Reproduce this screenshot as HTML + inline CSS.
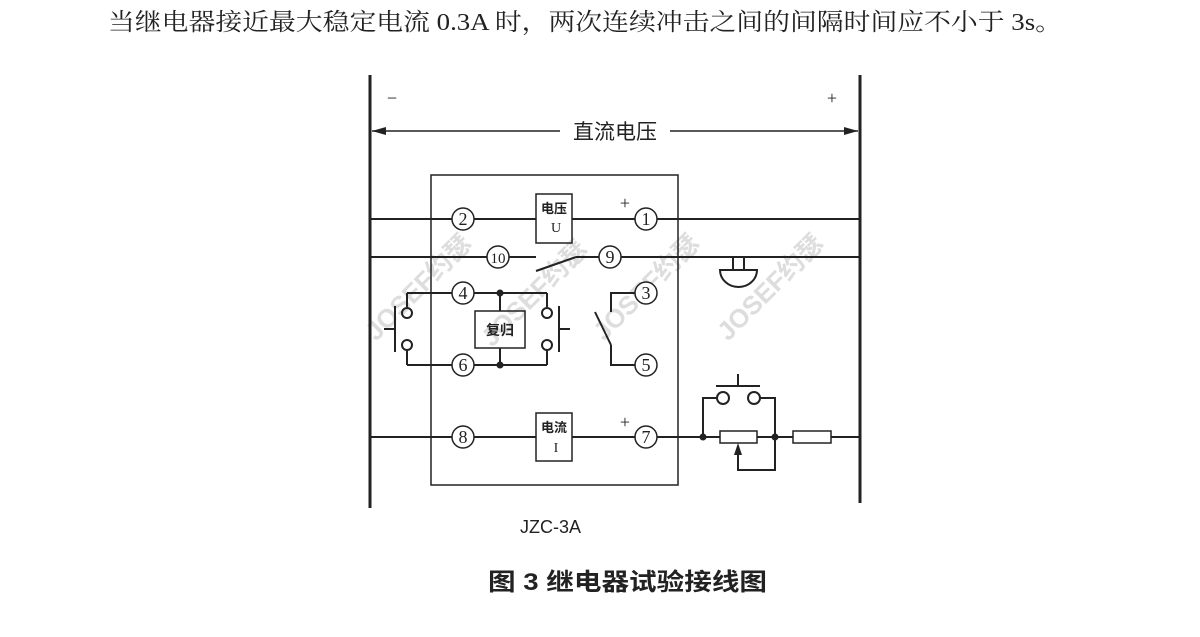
<!DOCTYPE html>
<html><head><meta charset="utf-8"><style>
html,body{margin:0;padding:0;background:#fff;width:1200px;height:637px;overflow:hidden}
svg{display:block}
</style></head><body>
<svg width="1200" height="637" viewBox="0 0 1200 637" xmlns="http://www.w3.org/2000/svg" font-family="'Liberation Serif','Noto Serif CJK SC',serif">
<text x="108" y="30" font-size="24" textLength="954" lengthAdjust="spacingAndGlyphs" fill="#222">当继电器接近最大稳定电流 0.3A 时，两次连续冲击之间的间隔时间应不小于 3s。</text>
<g font-size="26" font-weight="bold" fill="#ddd" font-family="'Liberation Sans','Noto Sans CJK SC',sans-serif">
<text transform="translate(376,342) rotate(-45)">JOSEF约瑟</text>
<text transform="translate(492,348) rotate(-45)">JOSEF约瑟</text>
<text transform="translate(604,342) rotate(-45)">JOSEF约瑟</text>
<text transform="translate(728,342) rotate(-45)">JOSEF约瑟</text>
</g>
<g stroke="#222" fill="none" stroke-width="2">
<line x1="370" y1="75" x2="370" y2="508" stroke-width="3"/>
<line x1="860" y1="75" x2="860" y2="503" stroke-width="3"/>
<line x1="372" y1="131" x2="560" y2="131" stroke-width="1.5"/>
<line x1="670" y1="131" x2="858" y2="131" stroke-width="1.5"/>
<rect x="431" y="175" width="247" height="310" stroke-width="1.5"/>
<line x1="370" y1="219" x2="453" y2="219"/><line x1="473" y1="219" x2="536" y2="219"/>
<line x1="572" y1="219" x2="636" y2="219"/><line x1="656" y1="219" x2="860" y2="219"/>
<rect x="536" y="194" width="36" height="49" stroke-width="1.5"/>
<line x1="370" y1="257" x2="488" y2="257"/><line x1="508" y1="257" x2="536" y2="257"/>
<line x1="536" y1="271" x2="576" y2="257"/><line x1="576" y1="257" x2="600" y2="257"/>
<line x1="620" y1="257" x2="860" y2="257"/>
<line x1="733" y1="257" x2="733" y2="270"/><line x1="744" y1="257" x2="744" y2="270"/>
<path d="M720 270 H757 A18.5 17 0 0 1 720 270 Z"/>
<line x1="407" y1="293" x2="453" y2="293"/><line x1="473" y1="293" x2="547" y2="293"/>
<line x1="407" y1="293" x2="407" y2="307"/><line x1="547" y1="293" x2="547" y2="307"/>
<line x1="407" y1="365" x2="453" y2="365"/><line x1="473" y1="365" x2="547" y2="365"/>
<line x1="407" y1="365" x2="407" y2="351"/><line x1="547" y1="365" x2="547" y2="351"/>
<circle cx="407" cy="313" r="5"/><circle cx="407" cy="345" r="5"/>
<circle cx="547" cy="313" r="5"/><circle cx="547" cy="345" r="5"/>
<line x1="395" y1="306" x2="395" y2="352"/><line x1="384" y1="329" x2="395" y2="329"/>
<line x1="559" y1="306" x2="559" y2="352"/><line x1="559" y1="329" x2="570" y2="329"/>
<line x1="500" y1="293" x2="500" y2="311"/><line x1="500" y1="348" x2="500" y2="365"/>
<rect x="475" y="311" width="50" height="37" stroke-width="1.5"/>
<polyline points="636,293 611,293 611,312"/>
<line x1="595" y1="312" x2="611" y2="345"/>
<polyline points="611,345 611,365 636,365"/>
<line x1="370" y1="437" x2="453" y2="437"/><line x1="473" y1="437" x2="536" y2="437"/>
<line x1="572" y1="437" x2="636" y2="437"/><line x1="656" y1="437" x2="720" y2="437"/>
<rect x="536" y="413" width="36" height="48" stroke-width="1.5"/>
<rect x="720" y="431" width="37" height="12" stroke-width="1.5"/>
<line x1="757" y1="437" x2="793" y2="437"/>
<rect x="793" y="431" width="38" height="12" stroke-width="1.5"/>
<line x1="831" y1="437" x2="860" y2="437"/>
<polyline points="703,437 703,398 717,398"/>
<polyline points="760,398 775,398 775,437"/>
<circle cx="723" cy="398" r="6"/><circle cx="754" cy="398" r="6"/>
<line x1="716" y1="386" x2="760" y2="386"/><line x1="738" y1="374" x2="738" y2="386"/>
<polyline points="738,452 738,470 775,470 775,437"/>
</g>
<polygon points="738,443 734,455 742,455" fill="#222"/>
<g fill="#222"><circle cx="500" cy="293" r="3.5"/><circle cx="500" cy="365" r="3.5"/>
<circle cx="703" cy="437" r="3.5"/><circle cx="775" cy="437" r="3.5"/>
<polygon points="372,131 386,127 386,135"/><polygon points="858,131 844,127 844,135"/></g>
<g stroke="#222" fill="#fff" stroke-width="1.5">
<circle cx="463" cy="219" r="11"/><circle cx="646" cy="219" r="11"/>
<circle cx="498" cy="257" r="11"/><circle cx="610" cy="257" r="11"/>
<circle cx="463" cy="293" r="11"/><circle cx="463" cy="365" r="11"/>
<circle cx="646" cy="293" r="11"/><circle cx="646" cy="365" r="11"/>
<circle cx="463" cy="437" r="11"/><circle cx="646" cy="437" r="11"/>
</g>
<g font-size="18" fill="#222" text-anchor="middle">
<text x="463" y="225">2</text><text x="646" y="225">1</text>
<text x="498" y="263" font-size="15">10</text><text x="610" y="263">9</text>
<text x="463" y="299">4</text><text x="463" y="371">6</text>
<text x="646" y="299">3</text><text x="646" y="371">5</text>
<text x="463" y="443">8</text><text x="646" y="443">7</text>
<text x="625" y="209">+</text><text x="625" y="428">+</text>
<text x="392" y="104">−</text><text x="832" y="104">+</text>
<text x="554" y="213" font-size="13" font-family="'Noto Sans CJK SC',sans-serif" font-weight="bold">电压</text>
<text x="556" y="232" font-size="14">U</text>
<text x="554" y="432" font-size="13" font-family="'Noto Sans CJK SC',sans-serif" font-weight="bold">电流</text>
<text x="556" y="452" font-size="14">I</text>
<text x="500" y="335" font-size="14" font-family="'Noto Sans CJK SC',sans-serif" font-weight="bold">复归</text>
<text x="615" y="139" font-size="21" font-family="'Noto Sans CJK SC',sans-serif">直流电压</text>
</g>
<text x="520" y="533" font-size="18" font-family="'Liberation Sans',sans-serif" fill="#222">JZC-3A</text>
<text x="488" y="590" font-size="24" textLength="279" lengthAdjust="spacingAndGlyphs" font-weight="bold" font-family="'Liberation Sans','Noto Sans CJK SC',sans-serif" fill="#222">图 3  继电器试验接线图</text>
</svg>
</body></html>
